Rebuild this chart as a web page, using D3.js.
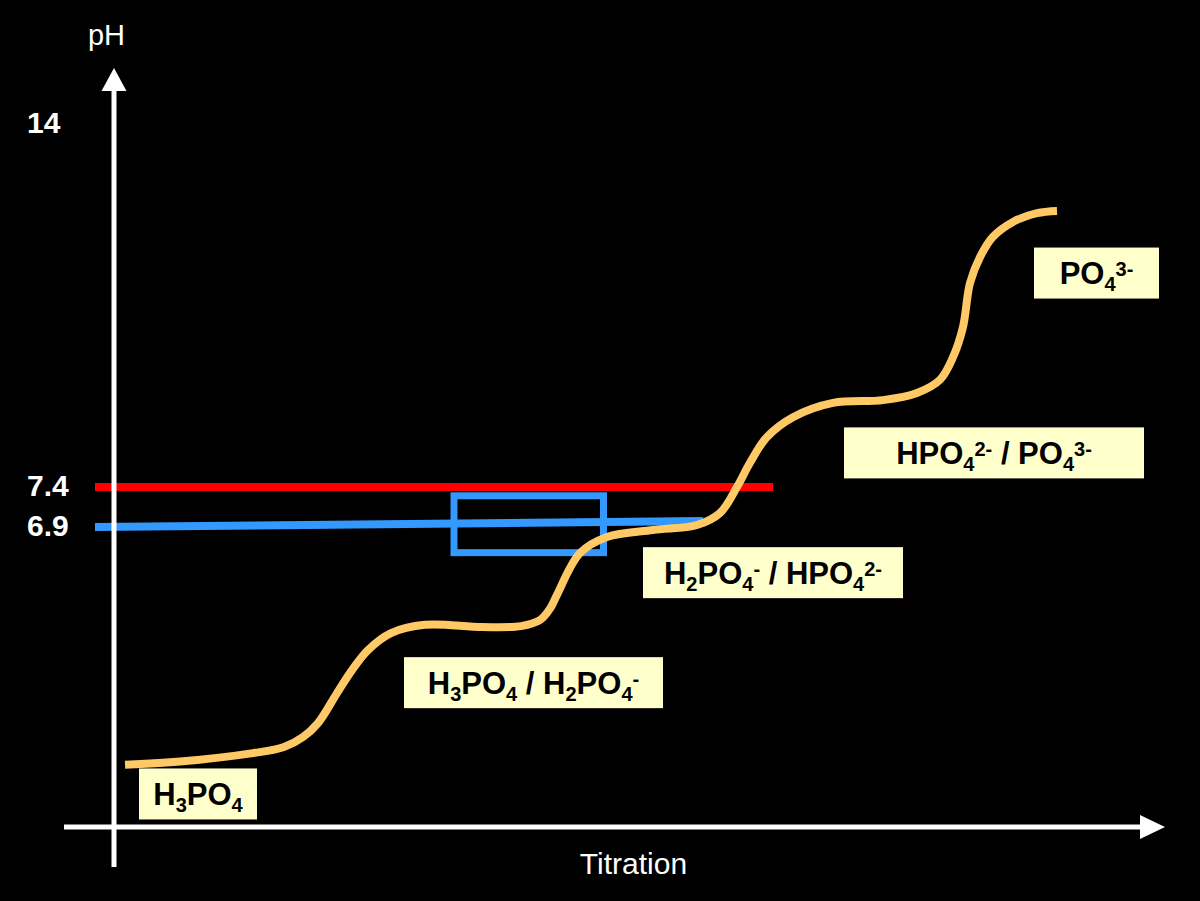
<!DOCTYPE html>
<html><head><meta charset="utf-8">
<script src="https://cdn.jsdelivr.net/npm/d3@7"></script>
<style>html,body{margin:0;padding:0;background:#000;} svg{display:block}</style>
</head><body><svg id="c" width="1200" height="901"></svg>
<script>
// ---- data (titration units, pH) ----
const curveT  = [1.1, 6.3, 13.9, 17.0, 18.9, 20.4, 22.3, 23.8, 25.4, 27.7, 31.1, 36.8, 40.7, 42.6, 43.7, 44.3, 46.6, 49.3, 53.9, 58.3, 60.6, 62.3, 63.6, 65.3, 67.9, 71.9, 76.9, 80.3, 82.6, 83.9, 84.9, 85.6, 86.6, 87.9, 89.9, 92.3, 94.3];
const curvePH = [1.43, 1.50, 1.70, 1.84, 2.07, 2.39, 3.08, 3.61, 4.07, 4.46, 4.65, 4.60, 4.62, 4.76, 5.06, 5.34, 6.30, 6.67, 6.83, 6.925, 7.075, 7.40, 7.84, 8.31, 8.67, 8.93, 8.98, 9.11, 9.35, 9.76, 10.31, 11.11, 11.58, 11.95, 12.22, 12.38, 12.42];
const redLineT = [-1.9, 65.9];
const redLinePH = [7.4, 7.4];
const blueLineT = [-1.9, 58.9];
const blueLinePH = [6.9, 6.975];
const boxT = [34.0, 48.95];
const boxPH = [6.31, 7.29];
const yTickValues = [6.9, 7.4, 14];
const yTickLabels = ["6.9", "7.4", "14"];
const labelTexts = ["H_{3}PO_{4}", "H_{3}PO_{4} / H_{2}PO_{4}^{-}", "H_{2}PO_{4}^{-} / HPO_{4}^{2-}", "HPO_{4}^{2-} / PO_{4}^{3-}", "PO_{4}^{3-}"];
const labelT  = [8.4, 41.95, 65.9, 88.0, 98.25];
const labelPH = [0.76, 3.32, 5.85, 8.02, 11.29];
const xTitle = "Titration";
const yTitle = "pH";

// ---- layout ----
const labelBoxW = [118, 259, 260, 300, 125];
const labelBoxH = 51;
const svg = d3.select("#c");
svg.append("rect").attr("width", 1200).attr("height", 901).attr("fill", "#000");

const x = d3.scaleLinear().domain([0, 100]).range([114, 1114]);
const y = d3.scaleLinear().domain([0, 6.9, 7.4, 14]).range([827, 527, 487, 124]);

const line = d3.line().x(d => x(d[0])).y(d => y(d[1]));

// reference lines
svg.append("path").datum(d3.zip(redLineT, redLinePH)).attr("d", line)
  .attr("stroke", "#FF0000").attr("stroke-width", 8).attr("fill", "none");
svg.append("path").datum(d3.zip(blueLineT, blueLinePH)).attr("d", line)
  .attr("stroke", "#3399FF").attr("stroke-width", 8).attr("fill", "none");
svg.append("rect")
  .attr("x", x(boxT[0])).attr("y", y(boxPH[1]))
  .attr("width", x(boxT[1]) - x(boxT[0])).attr("height", y(boxPH[0]) - y(boxPH[1]))
  .attr("fill", "none").attr("stroke", "#3399FF").attr("stroke-width", 7);

// axes lines with arrows
const axisG = svg.append("g");
axisG.append("line").attr("x1", 64).attr("x2", 1142).attr("y1", y(0)).attr("y2", y(0))
  .attr("stroke", "#fff").attr("stroke-width", 5);
axisG.append("path").attr("d", `M1140,${y(0)-12}L1165,${y(0)}L1140,${y(0)+12}Z`).attr("fill", "#fff");
axisG.append("line").attr("x1", x(0)).attr("x2", x(0)).attr("y1", 867).attr("y2", 89)
  .attr("stroke", "#fff").attr("stroke-width", 5);
axisG.append("path").attr("d", `M${x(0)-12.5},91L${x(0)},68L${x(0)+12.5},91Z`).attr("fill", "#fff");

// y tick labels via d3 axis
const yAxis = d3.axisLeft(y).tickValues(yTickValues).tickFormat((d, i) => yTickLabels[i]).tickSize(0);
const ya = svg.append("g").attr("transform", `translate(${x(0)},0)`).call(yAxis);
ya.select(".domain").remove();
ya.selectAll("text").attr("text-anchor", "start").attr("x", 27 - x(0)).attr("dy", "0.27em")
  .attr("fill", "#fff").attr("font-family", "Liberation Sans, Arial, sans-serif")
  .attr("font-size", 30).attr("font-weight", "bold");

// titles
svg.append("text").attr("x", 106.5).attr("y", 45).attr("text-anchor", "middle")
  .attr("fill", "#fff").attr("font-family", "Liberation Sans, Arial, sans-serif").attr("font-size", 29).text(yTitle);
svg.append("text").attr("x", 633.5).attr("y", 874).attr("text-anchor", "middle")
  .attr("fill", "#fff").attr("font-family", "Liberation Sans, Arial, sans-serif").attr("font-size", 30).text(xTitle);

// titration curve
svg.append("path").datum(d3.zip(curveT, curvePH))
  .attr("d", d3.line().x(d => x(d[0])).y(d => y(d[1])).curve(d3.curveCatmullRom.alpha(0.5)))
  .attr("stroke", "#FFC966").attr("stroke-width", 8).attr("fill", "none");

// labels
function parseRich(s) {
  const parts = [];
  const re = /([_^])\{([^}]*)\}|([^_^]+)/g;
  let m;
  while ((m = re.exec(s)) !== null) {
    if (m[1]) parts.push({ t: m[2], k: m[1] === "_" ? "sub" : "sup" });
    else parts.push({ t: m[3], k: "n" });
  }
  return parts;
}
labelTexts.forEach((txt, i) => {
  const cx = x(labelT[i]), cy = y(labelPH[i]);
  const g = svg.append("g");
  g.append("rect").attr("x", cx - labelBoxW[i] / 2).attr("y", cy - labelBoxH / 2)
    .attr("width", labelBoxW[i]).attr("height", labelBoxH).attr("fill", "#FFFFCC");
  const t = g.append("text").attr("x", cx).attr("y", cy + 11).attr("text-anchor", "middle")
    .attr("font-family", "Liberation Sans, Arial, sans-serif").attr("font-weight", "bold")
    .attr("fill", "#000").attr("font-size", 31);
  let shift = 0;
  parseRich(txt).forEach(p => {
    const target = p.k === "sub" ? 7 : p.k === "sup" ? -8 : 0;
    t.append("tspan").attr("dy", target - shift).attr("font-size", p.k === "n" ? 31 : 20)
      .style("white-space", "pre").text(p.t);
    shift = target;
  });
});
</script>
</body></html>
